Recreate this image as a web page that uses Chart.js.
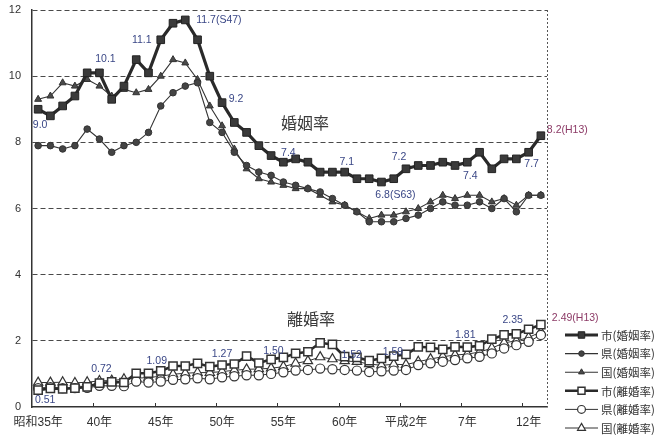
<!DOCTYPE html>
<html>
<head>
<meta charset="utf-8">
<script src="https://cdn.jsdelivr.net/npm/chart.js@4.4.1/dist/chart.umd.min.js"></script>
<style>
  html, body { margin: 0; padding: 0; background: #fff; }
  canvas { display: block; }
</style>
</head>
<body>
<canvas id="chart" width="661" height="438"></canvas>
<script>
// Years 1960 (昭和35年) to 2001 (平成13年)
const years = [1960, 1961, 1962, 1963, 1964, 1965, 1966, 1967, 1968, 1969,
               1970, 1971, 1972, 1973, 1974, 1975, 1976, 1977, 1978, 1979,
               1980, 1981, 1982, 1983, 1984, 1985, 1986, 1987, 1988, 1989,
               1990, 1991, 1992, 1993, 1994, 1995, 1996, 1997, 1998, 1999,
               2000, 2001];

// Axis labels
const yearTickLabels = { 1960: '昭和35年', 1965: '40年', 1970: '45年', 1975: '50年', 1980: '55年',
                         1985: '60年', 1990: '平成2年', 1995: '7年', 2000: '12年' };
const yTickValues = [0, 2, 4, 6, 8, 10, 12];

// Marriage rate (per 1,000 population)
const cityMarriage = [9.0, 8.8, 9.1, 9.4, 10.1, 10.1, 9.3, 9.7, 10.5, 10.1,
                      11.1, 11.6, 11.7, 11.1, 10.0, 9.2, 8.6, 8.3, 7.9, 7.6,
                      7.4, 7.5, 7.4, 7.1, 7.1, 7.1, 6.9, 6.9, 6.8, 6.9,
                      7.2, 7.3, 7.3, 7.4, 7.3, 7.4, 7.7, 7.2, 7.5, 7.5,
                      7.7, 8.2];
const prefMarriage = [7.9, 7.9, 7.8, 7.9, 8.4, 8.1, 7.7, 7.9, 8.0, 8.3,
                      9.1, 9.5, 9.7, 9.8, 8.6, 8.3, 7.7, 7.3, 7.1, 7.0,
                      6.8, 6.7, 6.6, 6.5, 6.3, 6.1, 5.9, 5.6, 5.6, 5.6,
                      5.7, 5.8, 6.0, 6.2, 6.1, 6.1, 6.2, 6.0, 6.3, 5.9,
                      6.4, 6.4];
const natMarriage  = [9.3, 9.4, 9.8, 9.7, 9.9, 9.7, 9.4, 9.6, 9.5, 9.6,
                      10.0, 10.5, 10.4, 9.9, 9.1, 8.5, 7.8, 7.2, 6.9, 6.8,
                      6.7, 6.6, 6.6, 6.4, 6.2, 6.1, 5.9, 5.7, 5.8, 5.8,
                      5.9, 6.0, 6.2, 6.4, 6.3, 6.4, 6.4, 6.2, 6.3, 6.1,
                      6.4, 6.4];

// Divorce rate (per 1,000 population)
const cityDivorce = [0.51, 0.56, 0.55, 0.57, 0.61, 0.72, 0.76, 0.74, 1.02, 1.02,
                     1.09, 1.24, 1.24, 1.32, 1.22, 1.27, 1.30, 1.54, 1.33, 1.44,
                     1.50, 1.62, 1.67, 1.94, 1.89, 1.52, 1.50, 1.40, 1.47, 1.54,
                     1.59, 1.82, 1.80, 1.74, 1.82, 1.81, 1.85, 2.05, 2.18, 2.21,
                     2.35, 2.49];
const prefDivorce = [0.57, 0.60, 0.57, 0.57, 0.58, 0.64, 0.64, 0.63, 0.77, 0.74,
                     0.77, 0.82, 0.84, 0.87, 0.84, 0.90, 0.93, 0.96, 0.96, 1.00,
                     1.05, 1.10, 1.12, 1.16, 1.14, 1.12, 1.10, 1.06, 1.08, 1.10,
                     1.12, 1.27, 1.32, 1.37, 1.42, 1.47, 1.52, 1.62, 1.77, 1.87,
                     1.97, 2.18];
const natDivorce  = [0.74, 0.74, 0.75, 0.73, 0.75, 0.79, 0.80, 0.84, 0.87, 0.89,
                     0.93, 0.99, 1.02, 1.04, 1.04, 1.07, 1.11, 1.14, 1.15, 1.17,
                     1.22, 1.32, 1.39, 1.51, 1.45, 1.39, 1.37, 1.30, 1.26, 1.29,
                     1.28, 1.37, 1.45, 1.52, 1.57, 1.60, 1.66, 1.78, 1.94, 2.00,
                     2.10, 2.27];

const seriesNames = ['市(婚姻率)', '県(婚姻率)', '国(婚姻率)', '市(離婚率)', '県(離婚率)', '国(離婚率)'];
const groupTitles = ['婚姻率', '離婚率'];

const FONT_LATIN = '"Liberation Sans", Arial, "Noto Sans CJK JP", sans-serif';
const FONT_JP = '"Noto Sans CJK JP", "Liberation Sans", sans-serif';
const INK = '#333333';
const NOTE_BLUE = '#3a4786';
const NOTE_RED = '#8c3a66';

// Annotated values on the 市 series (dataset index, point index, text offset)
const valueNotes = [
  { ds: 0, i: 0,  digits: 1, dx: 2,   dy: 16 },
  { ds: 0, i: 5,  digits: 1, dx: 6,   dy: -14 },
  { ds: 0, i: 10, digits: 1, dx: -19, dy: 0 },
  { ds: 0, i: 12, digits: 1, dx: 11,  dy: 0, align: 'left', suffix: '(S47)' },
  { ds: 0, i: 15, digits: 1, dx: 14,  dy: -4 },
  { ds: 0, i: 20, digits: 1, dx: 5,   dy: -9 },
  { ds: 0, i: 25, digits: 1, dx: 2,   dy: -10 },
  { ds: 0, i: 28, digits: 1, dx: 14,  dy: 13, suffix: '(S63)' },
  { ds: 0, i: 30, digits: 1, dx: -7,  dy: -12 },
  { ds: 0, i: 35, digits: 1, dx: 3,   dy: 14 },
  { ds: 0, i: 40, digits: 1, dx: 3,   dy: 12 },
  { ds: 0, i: 41, digits: 1, dx: 6,   dy: -6, align: 'left', suffix: '(H13)', color: NOTE_RED },
  { ds: 3, i: 0,  digits: 2, dx: 7,   dy: 10 },
  { ds: 3, i: 5,  digits: 2, dx: 2,   dy: -14 },
  { ds: 3, i: 10, digits: 2, dx: -4,  dy: -10 },
  { ds: 3, i: 15, digits: 2, dx: 0,   dy: -11 },
  { ds: 3, i: 20, digits: 2, dx: -10, dy: -6 },
  { ds: 3, i: 25, digits: 2, dx: 7,   dy: -2 },
  { ds: 3, i: 30, digits: 2, dx: -13, dy: -2 },
  { ds: 3, i: 35, digits: 2, dx: -2,  dy: -12 },
  { ds: 3, i: 40, digits: 2, dx: -16, dy: -9 },
  { ds: 3, i: 41, digits: 2, dx: 11,  dy: -7, align: 'left', suffix: '(H13)', color: NOTE_RED }
];

function makeSeries(label, data, style) {
  return Object.assign({
    label, data,
    tension: 0,
    borderColor: INK,
    borderWidth: 1,
    pointBorderColor: INK,
    pointBorderWidth: 1,
    pointHoverRadius: 0,
    clip: false
  }, style);
}

const datasets = [
  makeSeries(seriesNames[0], cityMarriage, { borderWidth: 3.2, borderColor: '#2a2a2a', pointStyle: 'rect', pointRadius: 5.4, pointBackgroundColor: '#3a3a3a', pointBorderColor: '#222' }),
  makeSeries(seriesNames[1], prefMarriage, { borderWidth: 1.1, pointStyle: 'circle', pointRadius: 3.3, pointBackgroundColor: '#444' }),
  makeSeries(seriesNames[2], natMarriage,  { borderWidth: 1.1, pointStyle: 'triangle', pointRadius: 4, pointBackgroundColor: '#4a4a4a' }),
  makeSeries(seriesNames[3], cityDivorce,  { borderWidth: 2.6, borderColor: '#2a2a2a', pointStyle: 'rect', pointRadius: 5.8, pointBackgroundColor: '#fff', pointBorderWidth: 1.5 }),
  makeSeries(seriesNames[4], prefDivorce,  { borderWidth: 1, pointStyle: 'circle', pointRadius: 4.6, pointBackgroundColor: '#fff', pointBorderWidth: 1.2 }),
  makeSeries(seriesNames[5], natDivorce,   { borderWidth: 1, pointStyle: 'triangle', pointRadius: 5.4, pointBackgroundColor: '#fff', pointBorderWidth: 1.2 })
];

// Small marker painter used by the side legend
function paintMarker(ctx, style, x, y, r, fill, stroke, lw) {
  ctx.save();
  ctx.fillStyle = fill;
  ctx.strokeStyle = stroke;
  ctx.lineWidth = lw;
  ctx.beginPath();
  if (style === 'rect') {
    const s = r * Math.SQRT1_2;
    ctx.rect(x - s, y - s, 2 * s, 2 * s);
  } else if (style === 'circle') {
    ctx.arc(x, y, r, 0, Math.PI * 2);
  } else {
    ctx.moveTo(x, y - r);
    ctx.lineTo(x + r * 0.866, y + r * 0.5);
    ctx.lineTo(x - r * 0.866, y + r * 0.5);
    ctx.closePath();
  }
  ctx.fill();
  ctx.stroke();
  ctx.restore();
}

const framePlugin = {
  id: 'frameExtras',
  afterDraw(chart) {
    const { ctx, chartArea: a, scales: { x } } = chart;
    ctx.save();
    // dotted right edge of the plot area
    ctx.strokeStyle = '#555';
    ctx.lineWidth = 1;
    ctx.setLineDash([2, 2]);
    ctx.beginPath();
    ctx.moveTo(a.right + 0.5, a.top);
    ctx.lineTo(a.right + 0.5, a.bottom);
    ctx.stroke();
    ctx.setLineDash([]);
    // inward tick marks at every fifth year boundary
    ctx.strokeStyle = INK;
    ctx.lineWidth = 1;
    years.forEach((yr, i) => {
      if (i === 0 || !(yr in yearTickLabels)) return;
      const px = Math.round((x.getPixelForValue(i - 1) + x.getPixelForValue(i)) / 2) + 0.5;
      ctx.beginPath();
      ctx.moveTo(px, a.bottom);
      ctx.lineTo(px, a.bottom - 4);
      ctx.stroke();
    });
    ctx.restore();
  }
};

const notesPlugin = {
  id: 'valueNotes',
  afterDatasetsDraw(chart) {
    const { ctx, scales: { x, y } } = chart;
    ctx.save();
    ctx.textBaseline = 'middle';
    ctx.font = '10.5px ' + FONT_LATIN;
    valueNotes.forEach(n => {
      const v = chart.data.datasets[n.ds].data[n.i];
      const text = v.toFixed(n.digits) + (n.suffix || '');
      ctx.textAlign = n.align || 'center';
      ctx.fillStyle = n.color || NOTE_BLUE;
      ctx.fillText(text, x.getPixelForValue(n.i) + n.dx, y.getPixelForValue(v) + n.dy);
    });
    // group titles
    ctx.font = '16px ' + FONT_JP;
    ctx.fillStyle = '#3a3a3a';
    ctx.textAlign = 'center';
    ctx.fillText(groupTitles[0], x.getPixelForValue(22) - 3, y.getPixelForValue(8.6));
    ctx.fillText(groupTitles[1], x.getPixelForValue(22) + 3, y.getPixelForValue(2.65));
    ctx.restore();
  }
};

const legendPlugin = {
  id: 'sideLegend',
  afterDraw(chart) {
    const { ctx, chartArea: a } = chart;
    const x0 = a.right + 18, len = 33, step = 18.6;
    let yRow = a.bottom - 72;
    ctx.save();
    ctx.font = '11.5px ' + FONT_JP;
    ctx.textBaseline = 'middle';
    ctx.textAlign = 'left';
    chart.data.datasets.forEach(ds => {
      ctx.strokeStyle = ds.borderColor;
      ctx.lineWidth = ds.borderWidth;
      ctx.beginPath();
      ctx.moveTo(x0, yRow);
      ctx.lineTo(x0 + len, yRow);
      ctx.stroke();
      paintMarker(ctx, ds.pointStyle, x0 + len / 2, yRow, ds.pointRadius * 0.85,
                  ds.pointBackgroundColor, ds.pointBorderColor, ds.pointBorderWidth);
      ctx.fillStyle = INK;
      ctx.fillText(ds.label, x0 + len + 3, yRow + 0.5);
      yRow += step;
    });
    ctx.restore();
  }
};

new Chart(document.getElementById('chart'), {
  type: 'line',
  data: { labels: years, datasets },
  options: {
    responsive: false,
    animation: false,
    devicePixelRatio: 1,
    layout: { padding: { left: 0, right: 114, top: 10, bottom: 0 } },
    plugins: { legend: { display: false }, tooltip: { enabled: false } },
    events: [],
    scales: {
      x: {
        type: 'category',
        offset: true,
        grid: { display: false, drawTicks: false },
        border: { display: true, color: INK, width: 1.5 },
        ticks: {
          autoSkip: false,
          maxRotation: 0,
          padding: 8,
          color: INK,
          font: { family: FONT_LATIN, size: 12 },
          callback: (val, idx) => yearTickLabels[years[idx]] || ''
        },
        afterFit: s => { s.height = 31; s.paddingLeft = 0; s.paddingRight = 0; }
      },
      y: {
        min: 0,
        max: 12,
        afterBuildTicks: s => { s.ticks = yTickValues.map(v => ({ value: v })); },
        grid: {
          drawTicks: false,
          lineWidth: 1,
          color: c => (c.tick && c.tick.value === 0) ? 'rgba(0,0,0,0)' : '#4a4a4a'
        },
        border: { display: true, color: INK, width: 1.5, dash: [5, 3] },
        ticks: {
          padding: 11,
          color: INK,
          font: { family: FONT_LATIN, size: 11 }
        },
        afterFit: s => { s.width = 32; s.paddingTop = 0; s.paddingBottom = 0; }
      }
    }
  },
  plugins: [framePlugin, notesPlugin, legendPlugin]
});
</script>
</body>
</html>
